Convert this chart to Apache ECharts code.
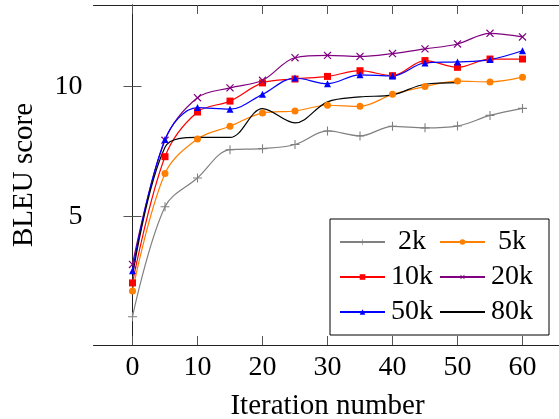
<!DOCTYPE html>
<html>
<head>
<meta charset="utf-8">
<script src="https://cdn.jsdelivr.net/npm/echarts@6/dist/echarts.min.js"></script>
<style>
  html, body { margin: 0; padding: 0; background: #fff; font-family: "Liberation Serif", serif; }
  #chart { width: 559px; height: 419px; }
  #warm { position: absolute; left: -1000px; top: 0; font-size: 26px; }
</style>
</head>
<body>
<div id="chart"></div>
<span id="warm">Iteration number BLEU score 0123456789k</span>
<script>
// iterations (x) and BLEU scores per training size
const iterations = [0, 5, 10, 15, 20, 25, 30, 35, 40, 45, 50, 55, 60];
const bleu2k  = [1.13, 5.36, 6.47, 7.56, 7.6, 7.76, 8.28, 8.09, 8.46, 8.4, 8.47, 8.88, 9.15];
const bleu5k  = [2.12, 6.64, 7.97, 8.46, 8.97, 9.05, 9.27, 9.23, 9.69, 9.99, 10.2, 10.17, 10.35];
const bleu10k = [2.43, 7.29, 9.01, 9.43, 10.13, 10.28, 10.38, 10.6, 10.41, 10.99, 10.73, 11.05, 11.05];
const bleu20k = [3.14, 7.92, 9.56, 9.94, 10.23, 11.1, 11.19, 11.15, 11.26, 11.44, 11.63, 12.04, 11.9];
const bleu50k = [2.9, 7.95, 9.18, 9.12, 9.69, 10.32, 10.1, 10.44, 10.4, 10.9, 10.94, 11.03, 11.37];
const bleu80k = [2.69, 7.65, 8.03, 8.03, 9.14, 8.59, 9.4, 9.59, 9.67, 10.08, 10.14];
const xTicks = [0, 10, 20, 30, 40, 50, 60];
const yTicks = [5, 10];

const FONT = 'Liberation Serif';
const plusPath = 'path://M-0.12,-1H0.12V-0.12H1V0.12H0.12V1H-0.12V0.12H-1V-0.12H-0.12Z';

function pairs(ys) {
  return ys.map(function (y, i) { return [iterations[i], y]; });
}

function makeSeries(name, ys, color, symbol, size, rotate) {
  return {
    name: name,
    type: 'line',
    smooth: 0.35,
    data: pairs(ys),
    symbol: symbol,
    symbolSize: size,
    symbolRotate: rotate || 0,
    showSymbol: symbol !== 'none',
    lineStyle: { color: color, width: 1.2 },
    itemStyle: { color: color, borderWidth: 0 },
    emphasis: { disabled: true },
    z: 3
  };
}

const tickStyle = { show: true, inside: true, length: 9, lineStyle: { color: '#555', width: 1 } };
const lineStyle = { show: true, lineStyle: { color: '#222', width: 1 } };

const option = {
  animation: false,
  backgroundColor: '#fff',
  textStyle: { fontFamily: FONT },
  grid: {
    left: 93.5,
    right: -2.5,
    top: 5,
    bottom: 74,
    containLabel: false,
    outerBoundsMode: 'none'
  },
  xAxis: [
    {
      type: 'value',
      min: -6,
      max: 66,
      position: 'bottom',
      axisLine: lineStyle,
      axisTick: Object.assign({ customValues: xTicks }, tickStyle),
      axisLabel: {
        customValues: xTicks,
        margin: 9,
        fontFamily: FONT,
        fontSize: 28,
        color: '#000'
      },
      splitLine: { show: false },
      name: 'Iteration number',
      nameLocation: 'middle',
      nameGap: 47,
      nameTextStyle: { fontFamily: FONT, fontSize: 29, color: '#000' }
    },
    {
      type: 'value',
      min: -6,
      max: 66,
      position: 'top',
      axisLine: lineStyle,
      axisTick: Object.assign({ customValues: xTicks }, tickStyle),
      axisLabel: { show: false },
      splitLine: { show: false }
    }
  ],
  yAxis: [
    {
      type: 'value',
      min: 0.04,
      max: 13.13,
      position: 'left',
      axisLine: lineStyle,
      axisTick: Object.assign({ customValues: yTicks }, tickStyle),
      axisLabel: {
        customValues: yTicks,
        margin: 11,
        fontFamily: FONT,
        fontSize: 28,
        color: '#000'
      },
      splitLine: { show: false },
      name: 'BLEU score',
      nameLocation: 'middle',
      nameRotate: 90,
      nameGap: 55,
      nameTextStyle: { fontFamily: FONT, fontSize: 29, color: '#000' }
    },
    {
      type: 'value',
      min: 0.04,
      max: 13.13,
      position: 'right',
      axisLine: lineStyle,
      axisTick: Object.assign({ customValues: yTicks }, tickStyle),
      axisLabel: { show: false },
      splitLine: { show: false }
    }
  ],
  legend: {
    left: 330,
    top: 219,
    width: 196,
    orient: 'horizontal',
    itemWidth: 45,
    itemHeight: 7,
    itemGap: 5,
    padding: [8, 15, 8, 9],
    borderColor: '#000',
    borderWidth: 1,
    backgroundColor: '#fff',
    z: 10,
    selectedMode: false,
    formatter: function (name) { return '{t|' + name + '}'; },
    textStyle: {
      color: '#000',
      fontFamily: FONT,
      fontSize: 28,
      rich: {
        t: { width: 44, height: 30, lineHeight: 30, align: 'center', fontFamily: FONT, fontSize: 28, color: '#000' }
      }
    },
    data: ['2k', '5k', '10k', '20k', '50k', { name: '80k', itemStyle: { opacity: 0 } }]
  },
  series: [
    makeSeries('2k', bleu2k, '#808080', plusPath, 9),
    makeSeries('5k', bleu5k, '#ff8000', 'circle', 7),
    makeSeries('10k', bleu10k, '#ff0000', 'rect', 7),
    makeSeries('20k', bleu20k, '#800080', plusPath, 10, 45),
    makeSeries('50k', bleu50k, '#0000ff', 'triangle', 7),
    makeSeries('80k', bleu80k, '#000000', 'none', 0)
  ]
};

const chart = echarts.init(document.getElementById('chart'), null, { renderer: 'canvas' });
chart.setOption(option);
</script>
</body>
</html>
